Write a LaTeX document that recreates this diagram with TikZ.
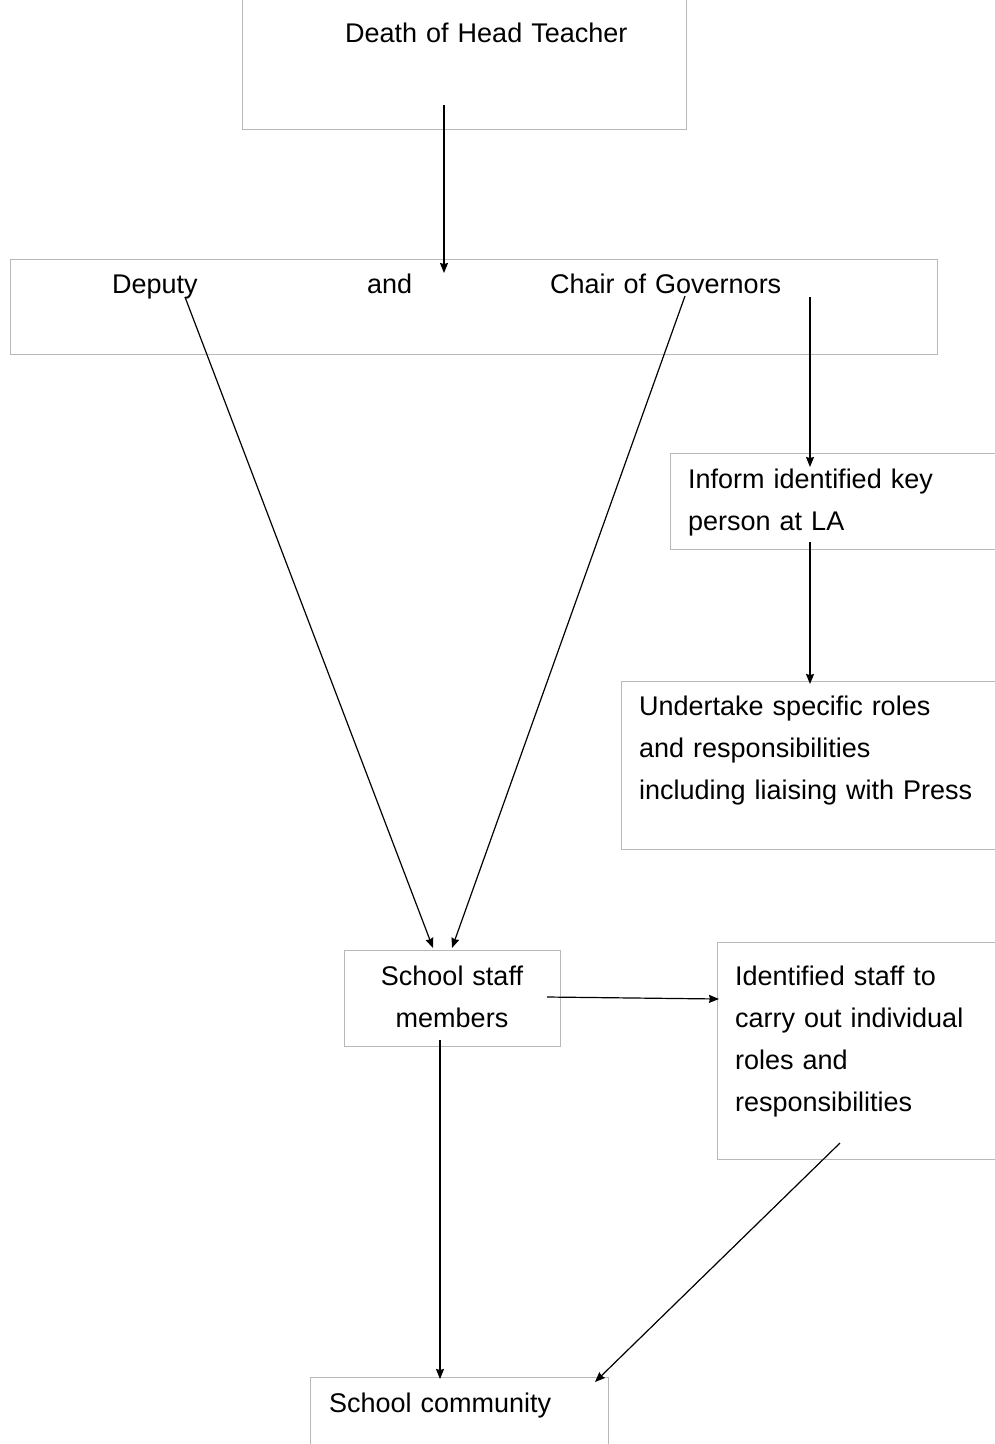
\documentclass[tikz,border=0pt]{standalone}
\usepackage{fontspec}
\setmainfont{Liberation Sans}
\usetikzlibrary{arrows.meta}
\tikzset{
  box/.style={draw=black!28, line width=1pt, inner sep=0pt, fill=none},
  txt/.style={inner sep=0pt, anchor=base west, text width=420pt, align=left,
              font=\fontsize{27}{42}\selectfont},
  arr/.style={line width=1.2pt, -{Stealth[length=10pt,width=8pt,inset=1pt]}},
}
\begin{document}
\begin{tikzpicture}[x=1pt,y=-1pt]
\useasboundingbox (0,0) rectangle (995,1444);
\clip (0,0) rectangle (995,1444);
% boxes
\node[box, minimum width=444pt, minimum height=139pt] (bhead) at (464,59.5) {};
\node[box, minimum width=927pt, minimum height=95pt] (bdc) at (473.5,306.5) {};
\node[box, minimum width=340pt, minimum height=96pt] (binf) at (840,501) {};
\node[box, minimum width=389pt, minimum height=168pt] (bund) at (815.5,765) {};
\node[box, minimum width=216pt, minimum height=96pt] (bstaff) at (452,998) {};
\node[box, minimum width=293pt, minimum height=217pt] (bident) at (863.5,1050.5) {};
\node[box, minimum width=298pt, minimum height=90pt] (bcomm) at (459,1422) {};
% texts
\node[txt] (thead) at (345,42) {Death of Head Teacher};
\node[txt] (tdep) at (112,293) {Deputy};
\node[txt] (tand) at (367,293) {and};
\node[txt] (tchair) at (550,293) {Chair of Governors};
\node[txt] (tinf) at (688,488) {Inform identified key\\person at LA};
\node[txt] (tund) at (639,715) {Undertake specific roles\\and responsibilities\\including liaising with Press};
\node[txt, text width=216pt, align=center, anchor=base] (tstaff) at (452,985) {School staff\\members};
\node[txt] (tident) at (735,985) {Identified staff to\\carry out individual\\roles and\\responsibilities};
\node[txt] (tcomm) at (329,1412) {School community};
% connector end points
\coordinate (a1s) at (444,105);  \coordinate (a1e) at (444,273);
\coordinate (a2s) at (185,297);  \coordinate (a2e) at (433,948);
\coordinate (a3s) at (685,296);  \coordinate (a3e) at (452,948);
\coordinate (a4s) at (810,297);  \coordinate (a4e) at (810,467);
\coordinate (a5s) at (810,542);  \coordinate (a5e) at (810,684);
\coordinate (a6s) at (547,997);  \coordinate (a6e) at (719,999);
\coordinate (a7s) at (440,1040); \coordinate (a7e) at (440,1379);
\coordinate (a8s) at (840,1143); \coordinate (a8e) at (595,1382);
\draw[arr] (a1s) -- (a1e);
\draw[arr] (a2s) -- (a2e);
\draw[arr] (a3s) -- (a3e);
\draw[arr] (a4s) -- (a4e);
\draw[arr] (a5s) -- (a5e);
\draw[arr] (a6s) -- (a6e);
\draw[arr] (a7s) -- (a7e);
\draw[arr] (a8s) -- (a8e);
\end{tikzpicture}
\end{document}
